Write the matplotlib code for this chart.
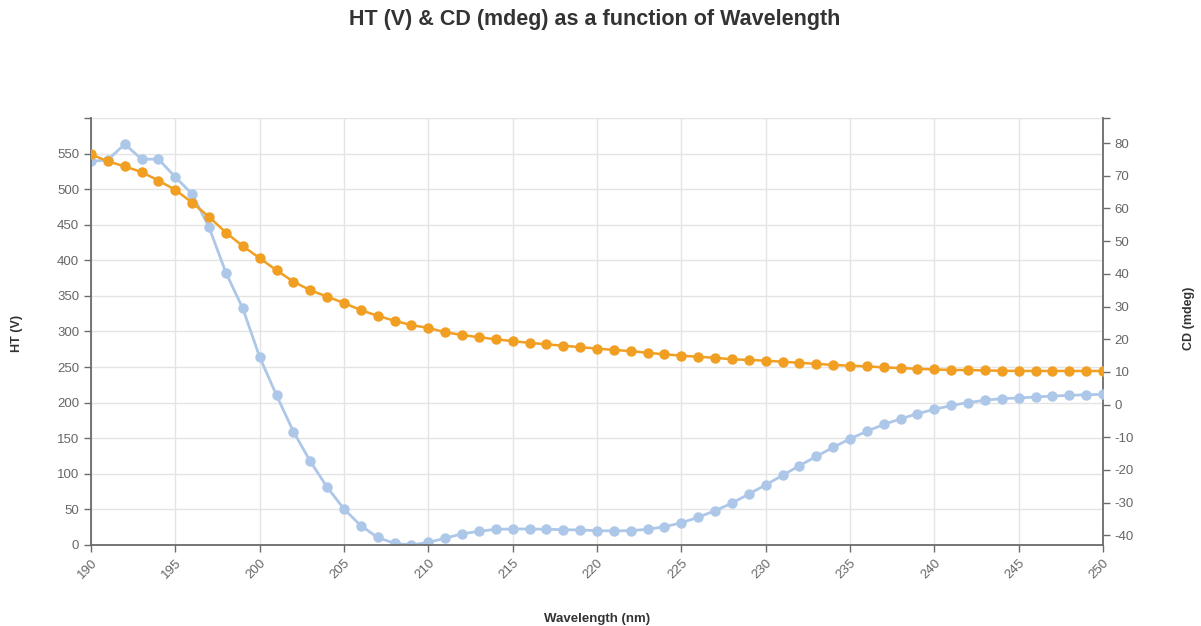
import numpy as np
import matplotlib.pyplot as plt

plt.rcParams['font.family'] = ['Liberation Sans', 'DejaVu Sans']

# wavelength in nm, one point per nm
wavelength = np.arange(190, 251)

# HT (V), left axis
ht = [549, 539, 532, 524, 512, 499, 481, 461, 439, 420,
      403, 386, 370, 358, 349, 340, 330, 322, 315, 309,
      305, 299, 295, 292, 289, 286.5, 284, 282, 280, 278,
      276, 274, 272.5, 270, 268, 266, 264.5, 263, 261, 260,
      259, 257.5, 256, 254.6, 253, 252, 251, 249.6, 248.6, 247.6,
      246.7, 246, 245.8, 245.3, 244.8, 244.6, 244.5, 244.5, 244.5, 244.5,
      244.5]

# CD (mdeg), right axis
cd = [74.4, 74.9, 79.7, 75.1, 75.1, 69.6, 64.4, 54.2, 40.3, 29.4,
      14.5, 2.8, -8.3, -17.4, -25.3, -32.0, -37.1, -40.7, -42.5, -43.0,
      -42.2, -40.9, -39.6, -38.8, -38.2, -38.1, -38.1, -38.2, -38.3, -38.4,
      -38.6, -38.7, -38.6, -38.2, -37.4, -36.2, -34.5, -32.5, -30.2, -27.4,
      -24.6, -21.7, -18.7, -15.9, -13.1, -10.5, -8.2, -6.1, -4.4, -2.8,
      -1.5, -0.3, 0.6, 1.3, 1.8, 2.0, 2.3, 2.6, 2.8, 3.0,
      3.1]

ht_ticks = np.arange(0, 601, 50)
cd_ticks = np.arange(-40, 81, 10)
x_ticks = np.arange(190, 251, 5)

orange = '#f09f22'
blue = '#adc7e8'
axis_col = '#6b6b6b'
label_col = '#666666'

fig = plt.figure(figsize=(12.01, 6.26), dpi=100)
pos = [0.0758, 0.1294, 0.8426, 0.6821]

# background axes only for the grid, so lines go over it
bg = fig.add_axes(pos)
bg.set_xlim(190, 250)
bg.set_ylim(0, 600)
bg.set_xticks(x_ticks)
bg.set_yticks(ht_ticks)
bg.grid(True, color='#e4e4e4', linewidth=1)
bg.tick_params(length=0, labelleft=False, labelbottom=False)
for s in bg.spines.values():
    s.set_visible(False)

ax2 = fig.add_axes(pos, sharex=bg)
ax = fig.add_axes(pos, sharex=bg)
for a in (ax, ax2):
    a.patch.set_visible(False)

ax2.plot(wavelength, cd, '-o', color=blue, lw=2.0, ms=6.5, zorder=3)
ax.plot(wavelength, ht, '-o', color=orange, lw=1.8, ms=6.5, zorder=3)

ax.set_xlim(190, 250)
ax.set_ylim(0, 600)
ax2.set_ylim(-43, 87.7)

ax.set_yticks(ht_ticks)
ax.set_yticklabels([str(v) for v in ht_ticks[:-1]] + [''])
ax.set_xticks(x_ticks)
ax.set_xticklabels([str(v) for v in x_ticks], rotation=45, ha='right',
                   va='top', rotation_mode='anchor')

ax2.yaxis.tick_right()
ax2.set_yticks(list(cd_ticks) + [87.7])
ax2.set_yticklabels([str(v) for v in cd_ticks] + [''])
ax2.tick_params(axis='x', bottom=False, labelbottom=False)
for s in ('top', 'left', 'bottom'):
    ax2.spines[s].set_visible(False)
ax2.spines['right'].set_color(axis_col)
ax2.spines['right'].set_linewidth(1.3)

ax.spines['top'].set_visible(False)
ax.spines['right'].set_visible(False)
for s in ('left', 'bottom'):
    ax.spines[s].set_color(axis_col)
    ax.spines[s].set_linewidth(1.3)

for a in (ax, ax2):
    a.tick_params(colors=axis_col, labelcolor=label_col, labelsize=9.5,
                  length=5, width=1)

fig.text(17 / 1201, 1 - 333 / 626, 'HT (V)', rotation=90, ha='center',
         va='center', fontsize=9, fontweight='bold', color='#333333')
fig.text(1189 / 1201, 1 - 318 / 626, 'CD (mdeg)', rotation=90, ha='center',
         va='center', fontsize=9, fontweight='bold', color='#333333')
fig.text(597 / 1201, 1 - 619 / 626, 'Wavelength (nm)', ha='center',
         va='center', fontsize=9.5, fontweight='bold', color='#333333')

fig.text(595 / 1201, 1 - 20 / 626,
         'HT (V) & CD (mdeg) as a function of Wavelength', ha='center',
         va='center', fontsize=15.5, fontweight='bold', color='#333333')

fig.savefig('out.png', dpi=100)
